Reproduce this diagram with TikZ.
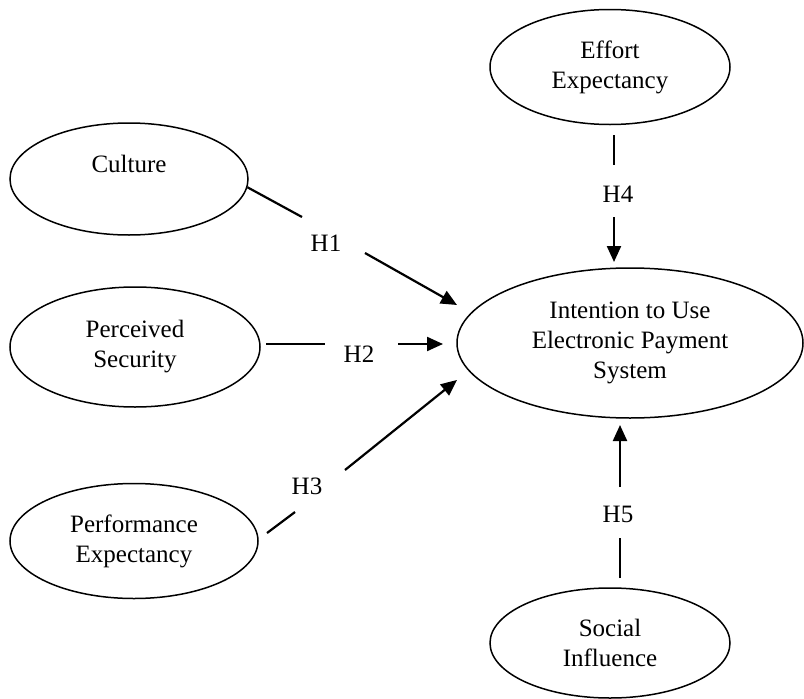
\documentclass[tikz,border=0pt]{standalone}
\usepackage{fontspec}
\setmainfont{Liberation Serif}
\usetikzlibrary{shapes.geometric,arrows.meta}
\begin{document}
\begin{tikzpicture}[x=1pt,y=-1pt,
  oval/.style={ellipse, draw, line width=1.5pt, inner sep=0pt, align=center,
    font=\fontsize{25}{30}\selectfont},
  hlab/.style={inner sep=0pt, font=\fontsize{25}{30}\selectfont},
  conn/.style={line width=2.2pt},
  arr/.style={conn, -{Triangle[length=16pt,width=14pt]}}]
\useasboundingbox (0,0) rectangle (804,699);
% constructs
\node[oval, minimum width=238pt, minimum height=112pt] (cul) at (129,179) {Culture\\\mbox{}};
\node[oval, minimum width=250pt, minimum height=120pt] (ps) at (135,347) {Perceived\\Security};
\node[oval, minimum width=248pt, minimum height=115pt] (pe) at (134,541) {Performance\\Expectancy};
\node[oval, minimum width=346pt, minimum height=150pt] (int) at (630,343) {Intention to Use\\Electronic Payment\\System};
\node[oval, minimum width=240pt, minimum height=115pt] (ee) at (610,67) {Effort\\Expectancy};
\node[oval, minimum width=240pt, minimum height=110pt] (si) at (610,643) {Social\\Influence};
% labels
\node[hlab] (l1) at (326,243) {H1};
\node[hlab] (l2) at (359,354) {H2};
\node[hlab] (l3) at (307,486) {H3};
\node[hlab] (l4) at (618,194) {H4};
\node[hlab] (l5) at (618,514) {H5};
% connector coordinates
\coordinate (h1a) at (302,217);
\coordinate (h1b) at (365,253);
\coordinate (h1t) at (457,305);
\coordinate (h2s) at (266,344);
\coordinate (h2a) at (325,344);
\coordinate (h2b) at (398,344);
\coordinate (h2t) at (443,344);
\coordinate (h3s) at (267,533);
\coordinate (h3a) at (295,512);
\coordinate (h3b) at (345,470);
\coordinate (h3t) at (457,380);
\coordinate (h4s) at (614,135);
\coordinate (h4a) at (614,165);
\coordinate (h4b) at (614,217);
\coordinate (h4t) at (614,262);
\coordinate (h5s) at (620,578);
\coordinate (h5a) at (620,538);
\coordinate (h5b) at (620,487);
\coordinate (h5t) at (620,425);
% connectors
\draw[conn] (cul.-4) -- (h1a);
\draw[arr] (h1b) -- (h1t);
\draw[conn] (h2s) -- (h2a);
\draw[arr] (h2b) -- (h2t);
\draw[conn] (h3s) -- (h3a);
\draw[arr] (h3b) -- (h3t);
\draw[conn] (h4s) -- (h4a);
\draw[arr] (h4b) -- (h4t);
\draw[conn] (h5s) -- (h5a);
\draw[arr] (h5b) -- (h5t);
\end{tikzpicture}
\end{document}
